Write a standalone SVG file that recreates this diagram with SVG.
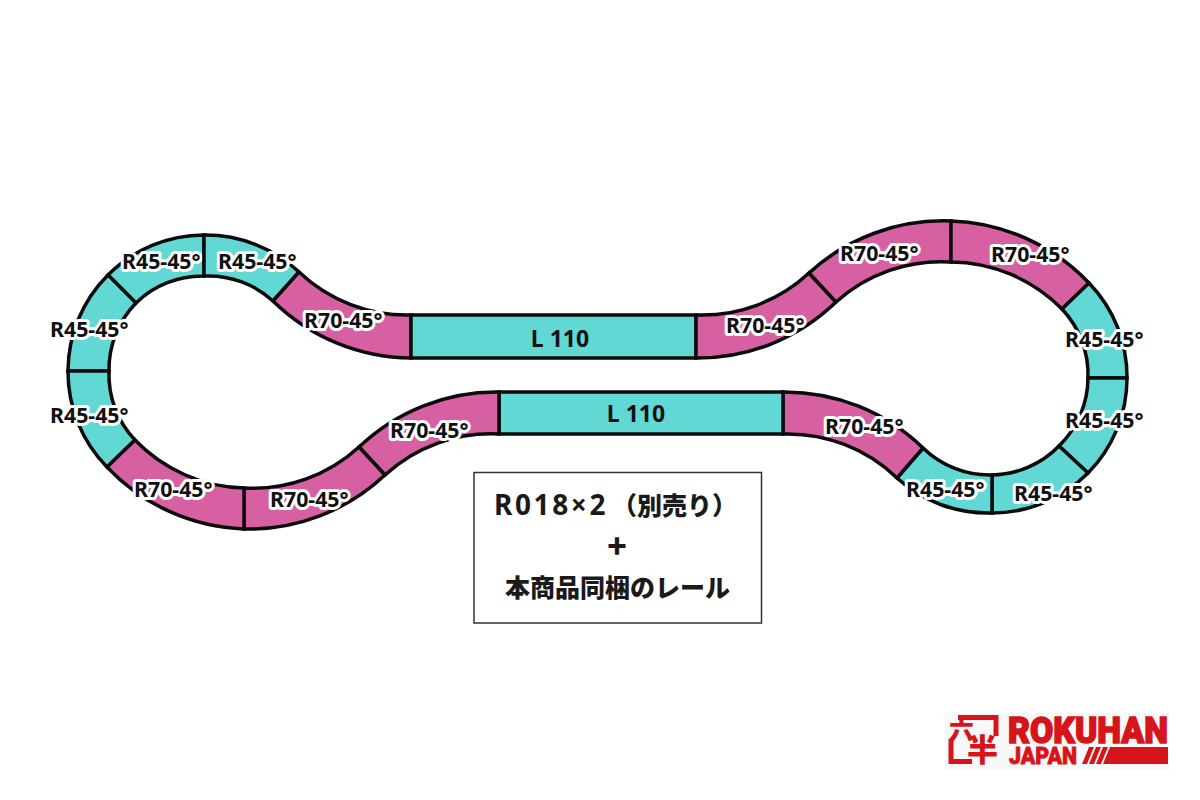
<svg xmlns="http://www.w3.org/2000/svg" width="1200" height="800" viewBox="0 0 1200 800">
<style>
.t{stroke:#0b0b0b;stroke-width:3.5;stroke-linejoin:miter}
.c{fill:#62d8d5}
.p{fill:#d660a1}
.l{font-family:"Noto Sans","Open Sans",sans-serif;font-weight:700;font-size:21.300px;fill:#111;stroke:#fff;stroke-width:6px;stroke-linejoin:round;paint-order:stroke}
.s{font-family:"Noto Sans","Open Sans",sans-serif;font-weight:700;font-size:23px;fill:#111;text-anchor:middle}
.b{font-family:"Noto Sans CJK JP","Noto Sans",sans-serif;font-weight:900;fill:#1a1a1a}
.r{fill:#d7141a}
.lg{font-family:Roboto,"Liberation Sans",sans-serif;font-weight:900;fill:#d7141a;stroke:#d7141a}
.k{font-family:"Noto Sans CJK JP",sans-serif;font-weight:900;fill:#d7141a}
</style>
<rect width="1200" height="800" fill="#fff"/>
<g id="track">
<g id="r45-1"><path class="t c" d="M108,275A136,136 0 0 1 204,235L204,276A95,95 0 0 0 136,303Z"/><text class="l" x="122" y="269">R45-45°</text></g>
<g id="r45-2"><path class="t c" d="M204,235A136,136 0 0 1 299,272L273,301A95,95 0 0 0 204,276Z"/><text class="l" x="218" y="269">R45-45°</text></g>
<g id="r45-3"><path class="t c" d="M68,371A136,136 0 0 1 108,275L136,303A95,95 0 0 0 109,371Z"/><text class="l" x="50" y="337">R45-45°</text></g>
<g id="r45-4"><path class="t c" d="M107,467A136,136 0 0 1 68,371L109,371A95,95 0 0 0 135,440Z"/><text class="l" x="50" y="423">R45-45°</text></g>
<g id="r70-1"><path class="t p" d="M299,272A157,157 0 0 0 411,315L411,358A199,199 0 0 1 273,301Z"/><text class="l" x="304" y="328">R70-45°</text></g>
<g id="l110-1"><rect class="t c" x="411" y="315" width="285" height="43"/><text class="s" x="560" y="347">L 110</text></g>
<g id="r70-2"><path class="t p" d="M696,315A157,157 0 0 0 809,273L836,302A199,199 0 0 1 696,358Z"/><text class="l" x="726" y="333">R70-45°</text></g>
<g id="r70-3"><path class="t p" d="M809,273A199,199 0 0 1 951,221L951,262A157,157 0 0 0 836,302Z"/><text class="l" x="840" y="261">R70-45°</text></g>
<g id="r70-4"><path class="t p" d="M951,221A199,199 0 0 1 1089,283L1062,309A157,157 0 0 0 951,262Z"/><text class="l" x="991" y="262">R70-45°</text></g>
<g id="r45-5"><path class="t c" d="M1088,378A96,96 0 0 0 1062,309L1089,283A135,135 0 0 1 1127,378Z"/><text class="l" x="1065" y="347">R45-45°</text></g>
<g id="r45-6"><path class="t c" d="M1059,446A96,96 0 0 0 1088,378L1127,378A135,135 0 0 1 1088,473Z"/><text class="l" x="1065" y="428">R45-45°</text></g>
<g id="r45-7"><path class="t c" d="M992,475A96,96 0 0 0 1059,446L1088,473A135,135 0 0 1 992,513Z"/><text class="l" x="1014" y="501">R45-45°</text></g>
<g id="r45-8"><path class="t c" d="M923,448A96,96 0 0 0 992,475L992,513A135,135 0 0 1 897,478Z"/><text class="l" x="906" y="497">R45-45°</text></g>
<g id="r70-5"><path class="t p" d="M783,392A199,199 0 0 1 923,448L897,478A157,157 0 0 0 783,434Z"/><text class="l" x="825" y="434">R70-45°</text></g>
<g id="l110-2"><rect class="t c" x="499" y="392" width="284" height="42"/><text class="s" x="636" y="422">L 110</text></g>
<g id="r70-6"><path class="t p" d="M359,447A199,199 0 0 1 499,392L499,434A157,157 0 0 0 385,475Z"/><text class="l" x="390" y="438">R70-45°</text></g>
<g id="r70-7"><path class="t p" d="M244,529A199,199 0 0 0 385,475L359,447A157,157 0 0 1 244,488Z"/><text class="l" x="270" y="507">R70-45°</text></g>
<g id="r70-8"><path class="t p" d="M107,467A199,199 0 0 0 244,529L244,488A157,157 0 0 1 135,440Z"/><text class="l" x="134" y="497">R70-45°</text></g>
</g>
<g id="note">
<rect x="474" y="472.500" width="287.500" height="150.500" fill="#fff" stroke="#333" stroke-width="1.500"/>
<text class="b" y="515" font-size="26"><tspan x="494" font-family="Noto Sans,sans-serif" font-weight="700" font-size="28" letter-spacing="2.600">R018×2</tspan><tspan x="612" font-size="25">（別売り）</tspan></text>
<text class="b" x="617" y="558" font-size="32" text-anchor="middle">+</text>
<text class="b" x="505" y="597" font-size="25">本商品同梱のレール</text>
</g>
<g id="logo">
<rect x="945" y="713" width="224" height="57" fill="#f8f8f8"/>
<path d="M958,717.500H996V736" fill="none" stroke="#d7141a" stroke-width="5"/>
<path d="M951,739V761.500H972" fill="none" stroke="#d7141a" stroke-width="5"/>
<text class="k" x="949" y="739" font-size="25">六</text>
<text class="k" x="967" y="761" font-size="31">半</text>
<text class="lg" x="1008" y="743" font-size="36" textLength="160" lengthAdjust="spacingAndGlyphs" stroke-width="1.500">ROKUHAN</text>
<text class="lg" x="1009" y="764" font-size="23" textLength="68" lengthAdjust="spacingAndGlyphs" stroke-width="0.800">JAPAN</text>
<polygon class="r" points="1082,764 1087,764 1094,747 1089,747"/>
<polygon class="r" points="1089,764 1094,764 1101,747 1096,747"/>
<polygon class="r" points="1096,764 1101,764 1108,747 1103,747"/>
<polygon class="r" points="1103,764 1168,764 1168,747 1110,747"/>
</g>
</svg>
